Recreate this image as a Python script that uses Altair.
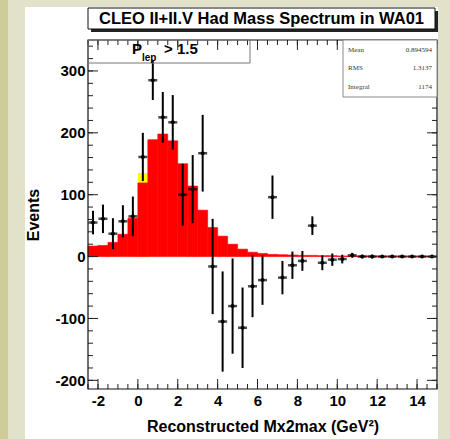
import altair as alt
import pandas as pd

# Bin centres (GeV^2), bin width 0.5
centers = [-2.25, -1.75, -1.25, -0.75, -0.25, 0.25, 0.75, 1.25, 1.75, 2.25,
           2.75, 3.25, 3.75, 4.25, 4.75, 5.25, 5.75, 6.25, 6.75, 7.25,
           7.75, 8.25, 8.75, 9.25, 9.75, 10.25, 10.75, 11.25, 11.75, 12.25,
           12.75, 13.25, 13.75, 14.25, 14.75]
# Background-subtracted data and statistical errors
events = [55, 61, 37, 57, 65, 161, 285, 225, 217, 100,
          109, 167, -16, -105, -80, -115, -48, -38, 96, -34,
          -14, -7, 50, -10, -5, -4, 2, 0, 0, 0,
          0, 0, 0, 0, 0]
errors = [19, 23, 25, 26, 32, 39, 32, 41, 44, 50,
          55, 62, 77, 81, 77, 65, 50, 40, 35, 27,
          22, 16, 15, 12, 10, 7, 4, 3, 3, 2,
          2, 2, 2, 2, 2]
# Monte Carlo expectation (filled histogram)
mc = [17, 18, 23, 36, 62, 119, 189, 198, 187, 150,
      114, 75, 47, 33, 20, 12, 7, 5, 3.5, 3,
      2.5, 2, 2, 1.5, 1.5, 1, 1, 1, 1, 0.5,
      0.5, 0.5, 0.5, 0.5, 0.5]
# Second component, visible where it exceeds the red one
yellow_centers = [0.25]
yellow_values = [135]

x_labels = [-2, 0, 2, 4, 6, 8, 10, 12, 14]
y_labels = [-200, -100, 0, 100, 200, 300]
x_minor = [-2.5 + 0.5 * i for i in range(36)]
y_minor = [-200 + 20 * i for i in range(28)]

stats_names = ["Mean", "RMS", "Integral"]
stats_values = ["0.894594", "1.3137", "1174"]

W, H = 349, 349
XDOM = [-2.5, 15]
YDOM = [-214, 350]
FONT = "Liberation Sans"

df = pd.DataFrame({"c": centers, "ev": events, "err": errors, "mc": mc})
df["x0"] = df["c"] - 0.25
df["x1"] = df["c"] + 0.25
df["lo"] = df["ev"] - df["err"]
df["hi"] = df["ev"] + df["err"]
df["base"] = 0.0

ydf = pd.DataFrame({"c": yellow_centers, "v": yellow_values})
ydf["x0"] = ydf["c"] - 0.25
ydf["x1"] = ydf["c"] + 0.25
ydf["base"] = 0.0

xs = alt.Scale(domain=XDOM, nice=False, zero=False)
ys = alt.Scale(domain=YDOM, nice=False, zero=False)

# plain hyphen for negative tick labels
plain = "'' + datum.value"

xaxis = alt.Axis(values=x_labels, labelExpr=plain, labelFont=FONT,
                 labelFontWeight="bold", labelFontSize=15, labelColor="black",
                 domain=False, ticks=False, tickSize=0, grid=False,
                 labelPadding=4, title="Reconstructed Mx2max (GeV²)",
                 titleFont=FONT, titleFontWeight="bold", titleFontSize=16,
                 titleColor="black", titlePadding=10, zindex=2)
yaxis = alt.Axis(values=y_labels, labelExpr=plain, labelFont=FONT,
                 labelFontWeight="bold", labelFontSize=15, labelColor="black",
                 domain=False, ticks=False, tickSize=0, grid=False,
                 labelPadding=3, title="Events", titleFont=FONT,
                 titleFontWeight="bold", titleFontSize=16, titleColor="black",
                 titleX=-55, titleBaseline="middle", zindex=2)


def X(f):
    return alt.X(f, scale=xs, axis=xaxis)


def Y(f):
    return alt.Y(f, scale=ys, axis=yaxis)


one = pd.DataFrame({"k": [0]})


def box(x, x2, y, y2, **kw):
    return alt.Chart(one).mark_rect(**kw).encode(
        x=alt.value(x), x2=alt.value(x2), y=alt.value(y), y2=alt.value(y2))


def label(x, y, txt, **kw):
    return alt.Chart(one).mark_text(**kw).encode(
        x=alt.value(x), y=alt.value(y), text=alt.value(txt))


# page decoration
panel = box(-63, 350, -33, 399, fill="white")
strip = box(-88, -80, -40, 399, fill="#cdcd9a")

# histograms
yellow = alt.Chart(ydf).mark_rect(color="#ffff00").encode(
    x=X("x0:Q"), x2="x1", y=Y("v:Q"), y2="base")
red = alt.Chart(df).mark_rect(color="#ff0000", stroke="#ff0000",
                              strokeWidth=0.6).encode(
    x=X("x0:Q"), x2="x1", y=Y("mc:Q"), y2="base")

# data points with error bars
ebar = alt.Chart(df).mark_rule(color="black", strokeWidth=2).encode(
    x=X("c:Q"), y=Y("lo:Q"), y2="hi")
etick = alt.Chart(df).mark_tick(color="black", orient="horizontal", size=9,
                                thickness=2.5).encode(x=X("c:Q"), y=Y("ev:Q"))
edot = alt.Chart(df).mark_circle(color="black", size=16, opacity=1).encode(
    x=X("c:Q"), y=Y("ev:Q"))

# frame ticks (inward, on all four sides)
xmaj = pd.DataFrame({"t": x_labels})
xmin = pd.DataFrame({"t": x_minor})
ymaj = pd.DataFrame({"t": y_labels})
ymin = pd.DataFrame({"t": y_minor})
tick_kw = dict(color="#222222", strokeWidth=1)


def xticks(d, L):
    b = alt.Chart(d).mark_rule(**tick_kw).encode(
        x=X("t:Q"), y=alt.value(H), y2=alt.value(H - L))
    t = alt.Chart(d).mark_rule(**tick_kw).encode(
        x=X("t:Q"), y=alt.value(0), y2=alt.value(L))
    return b + t


def yticks(d, L):
    l = alt.Chart(d).mark_rule(**tick_kw).encode(
        y=Y("t:Q"), x=alt.value(0), x2=alt.value(L))
    r = alt.Chart(d).mark_rule(**tick_kw).encode(
        y=Y("t:Q"), x=alt.value(W), x2=alt.value(W - L))
    return l + r


ticks = xticks(xmin, 5) + xticks(xmaj, 10) + yticks(ymin, 5) + yticks(ymaj, 10)

frame = box(0, W, 0, H, fill=None, stroke="#111111", strokeWidth=1.2)

# title pave with shadow
title_shadow = box(3, 350, -29, -8, fill="#222222")
title_box = box(0, 347, -32, -11, fill="white", stroke="#111111", strokeWidth=1)
title_txt = label(173.5, -21, "CLEO II+II.V Had Mass Spectrum in WA01",
                  font=FONT, fontWeight="bold", fontSize=16.5, color="black",
                  align="center", baseline="middle")

# cut label pave
cut_box = box(0, 162, 0, 23, fill=None, stroke="#777777", strokeWidth=1)
cut_p = label(44, 13.5, "P", font=FONT, fontWeight="bold", fontSize=15,
              color="black", align="left", baseline="alphabetic")
cut_sub = label(54, 21, "lep", font=FONT, fontWeight="bold", fontSize=10,
                color="black", align="left", baseline="alphabetic")
cut_rest = label(76, 13.5, "> 1.5", font=FONT, fontWeight="bold", fontSize=15,
                 color="black", align="left", baseline="alphabetic")

# statistics box
stats_box = box(255, W, 0, 57, fill="white", stroke="#888888", strokeWidth=1)
stats = [stats_box]
for i, (n, v) in enumerate(zip(stats_names, stats_values)):
    yy = 9.5 + 18.5 * i
    stats.append(label(260, yy, n, font="Liberation Serif", fontSize=7,
                       color="#333333", align="left", baseline="middle"))
    stats.append(label(344, yy, v, font="Liberation Serif", fontSize=7,
                       color="#333333", align="right", baseline="middle"))

chart = alt.layer(
    strip, panel, yellow, red, ebar, etick, edot, ticks, frame,
    title_shadow, title_box, title_txt, cut_box, cut_p, cut_sub, cut_rest,
    *stats
).properties(
    width=W, height=H,
    autosize=alt.AutoSizeParams(type="none"),
    padding={"left": 88, "top": 40, "right": 13, "bottom": 50},
).configure(background="#e2e2ca").configure_view(stroke=None)

chart.save("out.html", embed_options={"renderer": "svg", "actions": False})
